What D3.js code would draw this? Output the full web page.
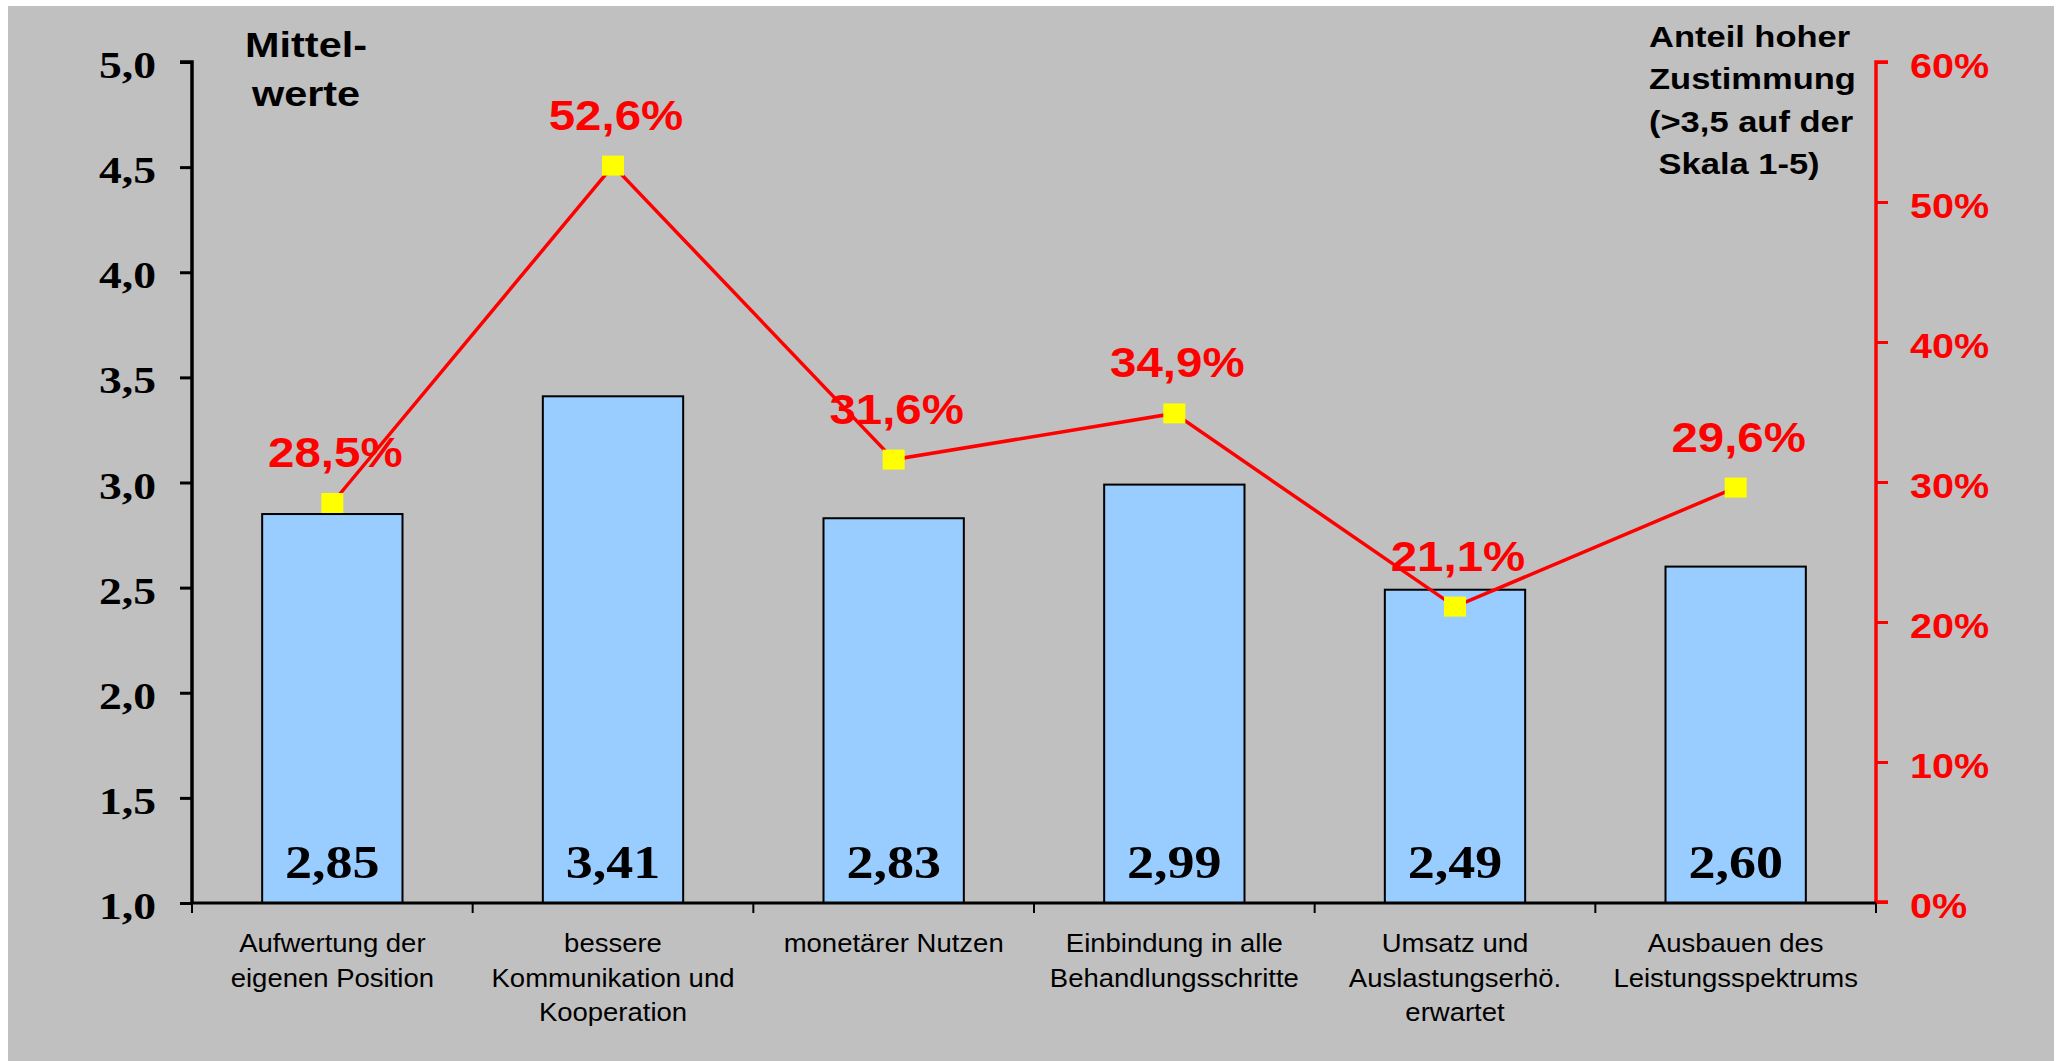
<!DOCTYPE html>
<html><head><meta charset="utf-8">
<script src="https://cdn.jsdelivr.net/npm/d3@7"></script>
<style>html,body{margin:0;padding:0;background:#fff;overflow:hidden}</style>
</head><body>
<script>
const categories = [
  ["Aufwertung der","eigenen Position"],
  ["bessere","Kommunikation und","Kooperation"],
  ["monetärer Nutzen"],
  ["Einbindung in alle","Behandlungsschritte"],
  ["Umsatz und","Auslastungserhö.","erwartet"],
  ["Ausbauen des","Leistungsspektrums"]
];
const meanValues = [2.85, 3.41, 2.83, 2.99, 2.49, 2.60];
const shareValues = [28.5, 52.6, 31.6, 34.9, 21.1, 29.6];
const leftTicks = [1.0, 1.5, 2.0, 2.5, 3.0, 3.5, 4.0, 4.5, 5.0];
const rightTicks = [0, 10, 20, 30, 40, 50, 60];
const leftTitle = ["Mittel-", "werte"];
const rightTitle = ["Anteil hoher", "Zustimmung", "(>3,5 auf der", " Skala 1-5)"];

const W = 2059, H = 1061;
const SERIF = "'Liberation Serif','Times New Roman',serif";
const SANS = "'Liberation Sans',Arial,sans-serif";
const fmt = (v, d) => v.toFixed(d).replace(".", ",");

const svg = d3.select("body").append("svg").attr("width", W).attr("height", H);
svg.append("rect").attr("x", 8).attr("y", 6).attr("width", 2046).attr("height", H - 6).attr("fill", "#c0c0c0");

const x0 = 192, x1 = 1876, yTop = 62, yBot = 903;
const x = d3.scaleBand().domain(d3.range(categories.length)).range([x0, x1]).paddingInner(0.5).paddingOuter(0.25);
const yL = d3.scaleLinear().domain([1, 5]).range([yBot, yTop]);
const yR = d3.scaleLinear().domain([0, 60]).range([yBot - 1, yTop]);

function txt(g, xx, yy, s, opts) {
  return g.append("text")
    .attr("transform", `translate(${xx},${yy}) scale(${opts.sx || 1},1)`)
    .attr("font-family", opts.family).attr("font-size", opts.size)
    .attr("font-weight", opts.weight || "normal").attr("fill", opts.fill || "#000")
    .attr("text-anchor", opts.anchor || "middle")
    .style("white-space", "pre")
    .text(s);
}

// bars
svg.append("g").selectAll("rect").data(meanValues).join("rect")
  .attr("x", (d, i) => x(i)).attr("width", x.bandwidth())
  .attr("y", d => yL(d)).attr("height", d => yBot - yL(d))
  .attr("fill", "#99ccff").attr("stroke", "#000").attr("stroke-width", 2);

// bar labels
const bl = svg.append("g");
meanValues.forEach((d, i) => txt(bl, x(i) + x.bandwidth() / 2, 878, fmt(d, 2), {family: SERIF, size: 47, weight: "bold", sx: 1.15}));

// left axis
const la = svg.append("g").attr("transform", `translate(${x0},0)`)
  .call(d3.axisLeft(yL).tickValues(leftTicks).tickSize(12).tickFormat(""));
la.select(".domain").attr("stroke", "#000").attr("stroke-width", 3.5).attr("d", `M-12,${yTop}H0V${yBot}`);
la.selectAll(".tick line").attr("stroke", "#000").attr("stroke-width", 3);
const llab = svg.append("g");
leftTicks.forEach(v => txt(llab, 156, yL(v) + 16, fmt(v, 1), {family: SERIF, size: 38, weight: "bold", anchor: "end", sx: 1.2}));

// right axis
const ra = svg.append("g").attr("transform", `translate(${x1},0)`)
  .call(d3.axisRight(yR).tickValues(rightTicks).tickSize(12).tickFormat(""));
ra.select(".domain").attr("stroke", "#ff0000").attr("stroke-width", 3.5).attr("d", `M12,${yTop}H0V${yR(0)}H12`);
ra.selectAll(".tick line").attr("stroke", "#ff0000").attr("stroke-width", 3);
const rlab = svg.append("g");
rightTicks.forEach(v => txt(rlab, 1910, yR(v) + 16, v + "%", {family: SANS, size: 35, weight: "bold", anchor: "start", fill: "#ff0000", sx: 1.13}));

// x axis
const xa = svg.append("g");
xa.append("line").attr("x1", x0).attr("x2", x1).attr("y1", yBot).attr("y2", yBot).attr("stroke", "#000").attr("stroke-width", 3);
const bounds = d3.range(categories.length + 1).map(i => x0 + i * (x1 - x0) / categories.length);
xa.selectAll("line.tk").data(bounds).join("line").attr("class", "tk")
  .attr("x1", d => d).attr("x2", d => d).attr("y1", yBot).attr("y2", yBot + 10)
  .attr("stroke", "#000").attr("stroke-width", 2);
categories.forEach((lines, i) => {
  lines.forEach((s, j) => txt(xa, x(i) + x.bandwidth() / 2, 952 + j * 34.5, s, {family: SANS, size: 25, sx: 1.1}));
});

// line series
const cx = i => x(i) + x.bandwidth() / 2;
svg.append("path").datum(shareValues)
  .attr("d", d3.line().x((d, i) => cx(i)).y(d => yR(d)))
  .attr("fill", "none").attr("stroke", "#ff0000").attr("stroke-width", 3.5);
svg.append("g").selectAll("rect").data(shareValues).join("rect")
  .attr("x", (d, i) => cx(i) - 11).attr("y", d => yR(d) - 10)
  .attr("width", 22).attr("height", 20).attr("fill", "#ffff00");
const pl = svg.append("g");
shareValues.forEach((d, i) => txt(pl, cx(i) + 3, yR(d) - 36, fmt(d, 1) + "%", {family: SANS, size: 42, weight: "bold", fill: "#ff0000", sx: 1.13}));

// titles
const tg = svg.append("g");
leftTitle.forEach((s, j) => txt(tg, 306, 57 + j * 49, s, {family: SANS, size: 36, weight: "bold", sx: 1.15}));
rightTitle.forEach((s, j) => txt(tg, 1649, [47, 89, 132, 174][j], s, {family: SANS, size: 30, weight: "bold", anchor: "start", sx: 1.15}));
</script>
</body></html>
